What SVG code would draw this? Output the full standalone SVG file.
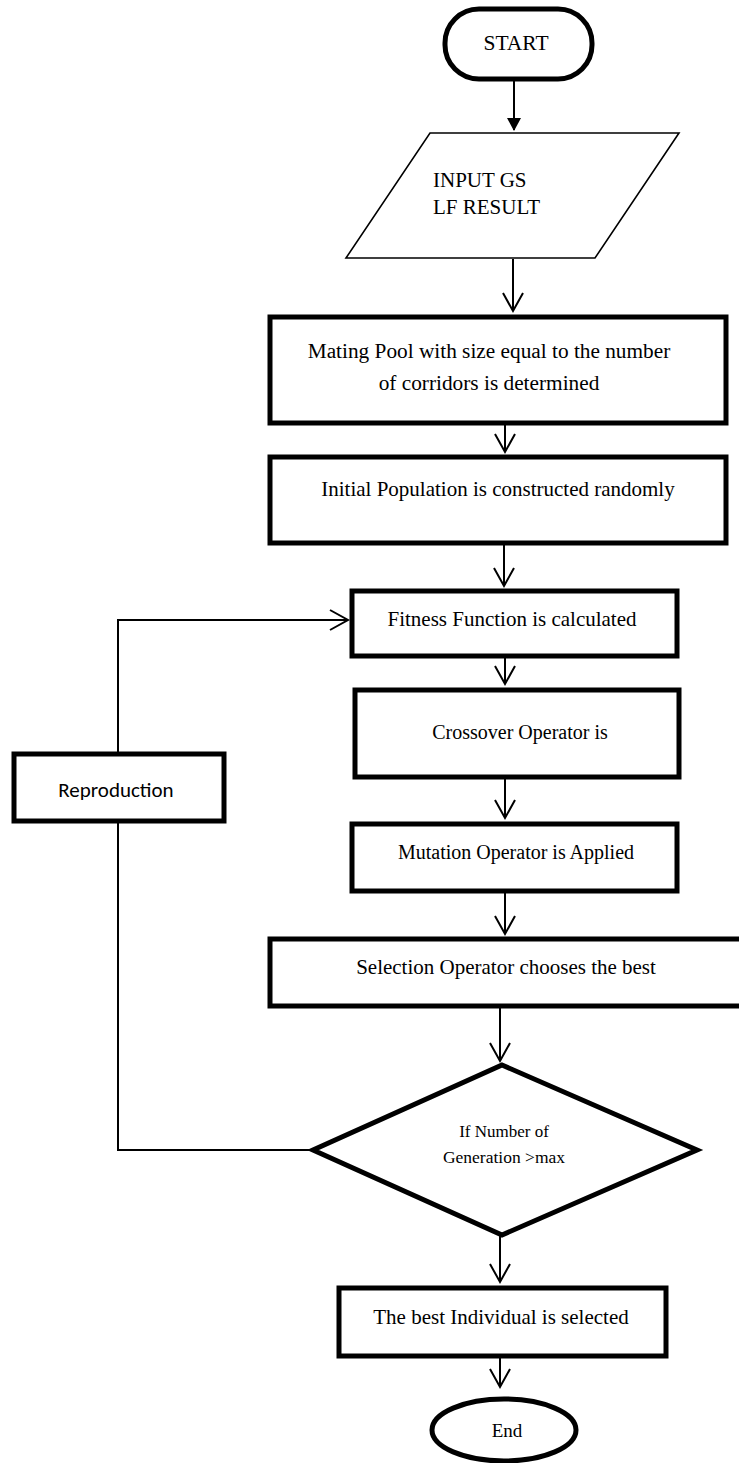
<svg xmlns="http://www.w3.org/2000/svg" width="739" height="1463" viewBox="0 0 739 1463">
<style>
.box{fill:#fff;stroke:#000;stroke-width:5}
.thin{fill:#fff;stroke:#000;stroke-width:1.6}
.t{font-family:"Liberation Serif","Times New Roman",serif;fill:#000;text-anchor:middle}
.l{font-family:"Liberation Serif","Times New Roman",serif;fill:#000;text-anchor:start}
.s{font-family:Carlito,"Liberation Sans","DejaVu Sans",sans-serif;fill:#000;text-anchor:middle}
.c{fill:none;stroke:#000;stroke-width:2}
</style>
<defs>
<marker id="tri" markerWidth="14" markerHeight="14" refX="12" refY="7" orient="auto" markerUnits="userSpaceOnUse">
<path d="M0,0 L13,7 L0,14 Z" fill="#000"/>
</marker>
<marker id="vee" markerWidth="22" markerHeight="24" refX="19" refY="11" orient="auto" markerUnits="userSpaceOnUse">
<path d="M1,1 L19,11 L1,21" fill="none" stroke="#000" stroke-width="2"/>
</marker>
</defs>
<rect width="739" height="1463" fill="#fff"/>
<g id="connectors">
<line class="c" x1="514" y1="80" x2="514" y2="130" marker-end="url(#tri)"/>
<line class="c" x1="513" y1="259" x2="513" y2="311" marker-end="url(#vee)"/>
<line class="c" x1="505" y1="424" x2="505" y2="452" marker-end="url(#vee)"/>
<line class="c" x1="504" y1="545" x2="504" y2="586" marker-end="url(#vee)"/>
<line class="c" x1="505" y1="658" x2="505" y2="684" marker-end="url(#vee)"/>
<line class="c" x1="505" y1="778" x2="505" y2="818" marker-end="url(#vee)"/>
<line class="c" x1="505" y1="892" x2="505" y2="934" marker-end="url(#vee)"/>
<line class="c" x1="500" y1="1008" x2="500" y2="1061" marker-end="url(#vee)"/>
<line class="c" x1="500" y1="1236" x2="500" y2="1282" marker-end="url(#vee)"/>
<line class="c" x1="500" y1="1358" x2="500" y2="1387" marker-end="url(#vee)"/>
<polyline class="c" points="313,1150 118,1150 118,822"/>
<polyline class="c" points="118,752 118,620 348,620" marker-end="url(#vee)"/>
</g>
<g id="start">
<rect class="box" x="445" y="9" width="147" height="70" rx="34" stroke-width="4.5"/>
<text class="t" x="516" y="50" font-size="21.5">START</text>
</g>
<g id="input">
<polygon class="thin" points="430,133 679,133 595,258 346,258"/>
<text class="l" x="433" y="187" font-size="21">INPUT GS</text>
<text class="l" x="433" y="214" font-size="21">LF RESULT</text>
</g>
<g id="mating">
<rect class="box" x="270" y="317" width="456" height="106"/>
<text class="t" x="489" y="358" font-size="21.3">Mating Pool with size equal to the number</text>
<text class="t" x="489" y="390" font-size="21.3">of corridors is determined</text>
</g>
<g id="initial">
<rect class="box" x="270" y="457" width="456" height="86"/>
<text class="t" x="498" y="496" font-size="21">Initial Population is constructed randomly</text>
</g>
<g id="fitness">
<rect class="box" x="352" y="591" width="325" height="65"/>
<text class="t" x="512" y="626" font-size="21">Fitness Function is calculated</text>
</g>
<g id="reproduction">
<rect class="box" x="14" y="754" width="210" height="67" stroke-width="4.5"/>
<text class="s" x="116" y="797" font-size="21">Reproduction</text>
</g>
<g id="crossover">
<rect class="box" x="355" y="690" width="324" height="87"/>
<text class="t" x="520" y="739" font-size="20">Crossover Operator is</text>
</g>
<g id="mutation">
<rect class="box" x="352" y="824" width="325" height="67"/>
<text class="t" x="516" y="859" font-size="20">Mutation Operator is Applied</text>
</g>
<g id="selection">
<rect class="box" x="270" y="939" width="480" height="67"/>
<text class="t" x="506" y="974" font-size="21">Selection Operator chooses the best</text>
</g>
<g id="decision">
<polygon class="box" points="502,1065 697,1150 502,1235 313,1150"/>
<text class="t" x="504" y="1137" font-size="17">If Number of</text>
<text class="t" x="504" y="1163" font-size="17.5">Generation &gt;max</text>
</g>
<g id="best">
<rect class="box" x="339" y="1288" width="327" height="68" stroke-width="4.5"/>
<text class="t" x="501" y="1324" font-size="21">The best Individual is selected</text>
</g>
<g id="end">
<ellipse class="box" cx="504" cy="1430" rx="72" ry="31" stroke-width="4.5"/>
<text class="t" x="507" y="1437" font-size="19">End</text>
</g>
</svg>
